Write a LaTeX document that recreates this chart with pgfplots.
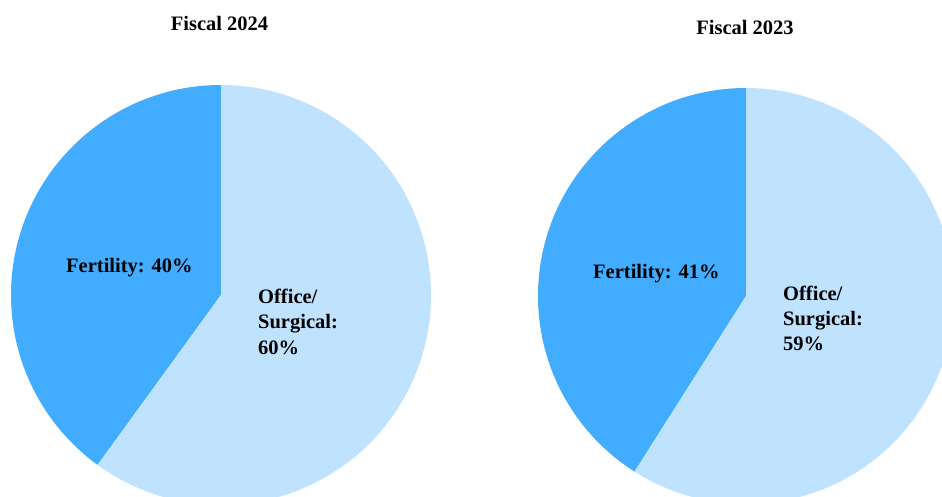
\documentclass[border=0pt]{standalone}
\usepackage{pgfplots}
\usepackage{pgfplotstable}
\pgfplotsset{compat=1.18}
\usepackage{fontspec}
\setmainfont{Liberation Serif}
\definecolor{fert}{RGB}{66,173,255}
\definecolor{offi}{RGB}{191,227,255}
\pgfplotstableread{
year fertility office
2024 40 60
2023 41 59
}\piedata
\pgfplotstablegetelem{0}{fertility}\of\piedata \let\fA\pgfplotsretval
\pgfplotstablegetelem{0}{office}\of\piedata \let\oA\pgfplotsretval
\pgfplotstablegetelem{1}{fertility}\of\piedata \let\fB\pgfplotsretval
\pgfplotstablegetelem{1}{office}\of\piedata \let\oB\pgfplotsretval
\pgfmathsetmacro{\angA}{90+3.6*\fA}
\pgfmathsetmacro{\angB}{90+3.6*\fB}
\begin{document}
\begin{tikzpicture}
\begin{axis}[
  at={(0,0)}, anchor=south west,
  hide axis, scale only axis,
  x=1bp, y=1bp,
  xmin=0, xmax=942, ymin=0, ymax=497,
  clip=true,
]
% Fiscal 2024 pie
\fill[fert] (axis cs:221,202) -- ++(90:210bp) arc[start angle=90, end angle=\angA, radius=210bp] -- cycle;
\fill[offi] (axis cs:221,202) -- ++(\angA:210bp) arc[start angle=\angA, end angle=450, radius=210bp] -- cycle;
% Fiscal 2023 pie
\fill[fert] (axis cs:746,201) -- ++(90:208bp) arc[start angle=90, end angle=\angB, radius=208bp] -- cycle;
\fill[offi] (axis cs:746,201) -- ++(\angB:208bp) arc[start angle=\angB, end angle=450, radius=208bp] -- cycle;
% titles
\node[anchor=base, inner sep=0pt, font=\fontsize{20.5bp}{25.5bp}\selectfont\bfseries] at (axis cs:219.5,466) {Fiscal 2024};
\node[anchor=base, inner sep=0pt, font=\fontsize{20.5bp}{25.5bp}\selectfont\bfseries] at (axis cs:745,462) {Fiscal 2023};
% labels
\node[anchor=base west, inner sep=0pt, font=\fontsize{20.5bp}{25.5bp}\selectfont\bfseries] at (axis cs:66,225) {Fertility: \fA\%};
\node[anchor=base west, inner sep=0pt, align=left, font=\fontsize{20.5bp}{25.5bp}\selectfont\bfseries] at (axis cs:258,143) {Office/\\Surgical:\\\oA\%};
\node[anchor=base west, inner sep=0pt, font=\fontsize{20.5bp}{25.5bp}\selectfont\bfseries] at (axis cs:593,219) {Fertility: \fB\%};
\node[anchor=base west, inner sep=0pt, align=left, font=\fontsize{20.5bp}{25bp}\selectfont\bfseries] at (axis cs:783,147) {Office/\\Surgical:\\\oB\%};
\end{axis}
\pgfresetboundingbox
\path (0,0) rectangle (942bp,497bp);
\end{tikzpicture}
\end{document}
